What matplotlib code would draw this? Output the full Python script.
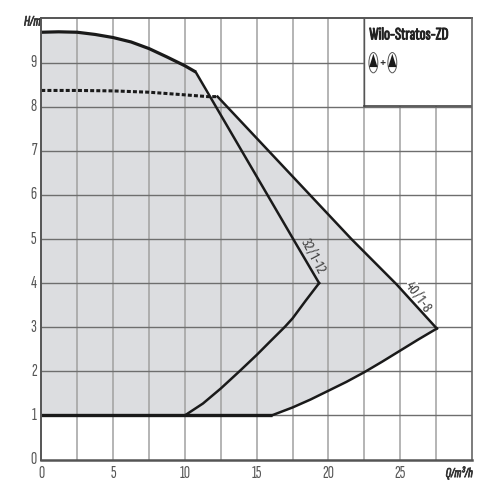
import matplotlib
matplotlib.use('Agg')
import matplotlib.pyplot as plt
import matplotlib.patheffects as pe
from matplotlib import font_manager as fm
from matplotlib.patches import Rectangle, Ellipse, Polygon

names = {f.name for f in fm.fontManager.ttflist}
FONT = next((n for n in ['Sofia Sans Extra Condensed', 'Fira Sans Extra Condensed', 'Fira Sans Condensed',
                         'PT Sans Narrow', 'Roboto Condensed', 'Liberation Sans'] if n in names), 'DejaVu Sans')
FONT2 = next((n for n in ['Fira Sans Extra Condensed', 'Fira Sans Condensed',
                          'PT Sans Narrow', 'Roboto Condensed', 'Liberation Sans'] if n in names), 'DejaVu Sans')
plt.rcParams['font.family'] = [FONT, 'DejaVu Sans']

top_q = [0, 1.2, 2.5, 3.75, 5, 6.25, 7.5, 8.75, 10, 10.75]
top_h = [9.69, 9.70, 9.69, 9.64, 9.57, 9.47, 9.32, 9.13, 8.93, 8.79]
drop12_q = [10.75, 17.6, 19.35]
drop12_h = [8.79, 4.97, 4.0]
rise12_q = [19.35, 18.41, 17.5, 16.97, 15.98, 15, 13.8, 12.5, 11.26, 10.0]
rise12_h = [4.0, 3.60, 3.20, 3.01, 2.69, 2.37, 2.0, 1.61, 1.27, 1.0]
dash_q = [0, 2.5, 5, 7.5, 10, 11.6, 12.28]
dash_h = [8.37, 8.37, 8.36, 8.33, 8.27, 8.23, 8.23]
drop8_q = [12.28, 21.6, 24.75, 27.55]
drop8_h = [8.23, 5.0, 3.97, 2.97]
rise8_q = [27.55, 26.25, 25, 23.75, 22.5, 21.25, 20, 18.75, 17.5, 16.05]
rise8_h = [2.97, 2.72, 2.47, 2.22, 1.98, 1.76, 1.56, 1.36, 1.18, 1.0]
base_q = [0, 16.05]
base_h = [1.0, 1.0]
x_ticks = [0, 5, 10, 15, 20, 25]
y_ticks = list(range(0, 10))
x_grid = [2.5 * i for i in range(1, 12)]
y_grid = list(range(1, 10))

fig = plt.figure(figsize=(5, 5), dpi=100)
ax = fig.add_axes([41.3 / 500, 40.5 / 500, 430.7 / 500, 441.8 / 500])
ax.set_xlim(0, 30)
ax.set_ylim(0, 10.02)
for s in ax.spines.values():
    s.set_visible(False)
ax.set_xticks([])
ax.set_yticks([])

shade_q = top_q + [11.6] + drop8_q + rise8_q[1:] + base_q[::-1]
shade_h = top_h + [8.23] + drop8_h + rise8_h[1:] + base_h[::-1]
ax.fill(shade_q, shade_h, color='#dcdde0', lw=0, zorder=1)
for x in x_grid:
    ax.axvline(x, color='#a0a0a0', lw=1.1, zorder=2)
for y in y_grid:
    ax.axhline(y, color='#6e6e6e', lw=1.0, zorder=2)
ax.plot([25.45, 26.26], [4, 4], color='white', lw=1.6, zorder=3, solid_capstyle='butt')

ink = '#1a1a1a'
ax.plot(top_q, top_h, color=ink, lw=2.3, zorder=4, solid_capstyle='butt')
ax.plot(drop12_q, drop12_h, color=ink, lw=1.8, zorder=4)
ax.plot(rise12_q, rise12_h, color=ink, lw=1.8, zorder=4)
ax.plot(dash_q, dash_h, color=ink, lw=2.2, ls=(0, (1.3, 0.7)), zorder=4)
ax.plot(drop8_q, drop8_h, color=ink, lw=1.8, zorder=4)
ax.plot(rise8_q, rise8_h, color=ink, lw=1.8, zorder=4)
ax.plot(base_q, base_h, color=ink, lw=2.4, zorder=4, solid_capstyle='butt')

# Title box covering the grid
box_x = (364 - 41.3) / 430.7 * 30
box_y = (459.5 - 106) / 44.1
ax.add_patch(Rectangle((box_x, box_y), 30 - box_x, 10.02 - box_y, fc='white', ec='none', zorder=5))
ax.plot([box_x, box_x], [box_y, 10.02], color='#555555', lw=1.0, zorder=6)
ax.plot([box_x, 30], [box_y, box_y], color='#444444', lw=1.2, zorder=6)

# Frame
ax.plot([0, 30], [10.01, 10.01], color='#555555', lw=1.4, zorder=6, clip_on=False)
ax.plot([30, 30], [0, 10.02], color='#666666', lw=1.2, zorder=6, clip_on=False)
ax.plot([0, 0], [0, 10.02], color='#555555', lw=1.4, zorder=6, clip_on=False)
ax.plot([0, 30], [0, 0], color='#555555', lw=1.8, zorder=6, clip_on=False)

heavy = [pe.withStroke(linewidth=0.7, foreground='#222222')]
ax.text(22.85, 9.63, 'Wilo-Stratos-ZD', fontsize=12.6, color='#222222',
        ha='left', va='center', zorder=7, path_effects=heavy)
for cx in (23.13, 24.45):
    ax.add_patch(Ellipse((cx, 9.0), 0.62, 0.46, fc='white', ec='#555555', lw=0.7, zorder=7))
    ax.add_patch(Polygon([(cx, 9.2), (cx - 0.29, 8.9), (cx + 0.29, 8.9)], fc=ink, ec='none', zorder=8))
ax.text(23.79, 8.97, '+', fontsize=14, color='#333333', ha='center', va='center', zorder=7)

ax.text(18.95, 4.61, '32/1-12', fontsize=10, rotation=-62, color='#444444', ha='center', va='center',
        rotation_mode='anchor', zorder=7, family=[FONT2, 'DejaVu Sans'])
ax.text(26.29, 3.70, '40/1-8', fontsize=10, rotation=-54, color='#444444', ha='center', va='center',
        rotation_mode='anchor', zorder=7, family=[FONT2, 'DejaVu Sans'])

for x in x_ticks:
    ax.text(x, -0.31, str(x), fontsize=12.5, color='#555555', ha='center', va='center')
for y in y_ticks:
    ax.text(-0.32, y, str(y), fontsize=12.5, color='#555555', ha='right', va='center')
light = [pe.withStroke(linewidth=0.5, foreground='#333333')]
ax.text(-0.05, 9.92, 'H/m', fontsize=10.5, style='italic', color='#333333', ha='right', va='center', path_effects=light)
ax.text(30.05, -0.31, 'Q/m³/h', fontsize=10, style='italic', color='#333333', ha='right', va='center', path_effects=light)

fig.savefig('out.png', dpi=100, facecolor='white')
